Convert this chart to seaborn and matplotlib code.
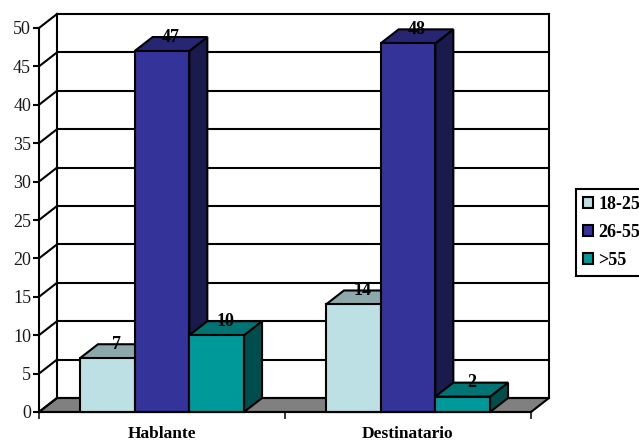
import matplotlib
matplotlib.use("Agg")
import matplotlib.pyplot as plt
from matplotlib.patches import Polygon, Patch
import pandas as pd
import seaborn as sns

categories = ["Hablante", "Destinatario"]
age_groups = ["18-25", "26-55", ">55"]
values_18_25 = [7, 14]
values_26_55 = [47, 48]
values_over_55 = [10, 2]

front_colors = ["#BCE0E4", "#333399", "#009999"]
top_colors = ["#8DA8AB", "#262673", "#007373"]
side_colors = ["#5E7072", "#1A1A4D", "#004D4D"]
FLOOR = "#808080"

W, H = 639, 443
LEFT, RIGHT, BOTTOM, TOP = 39, 531, 412, 28
DEPTH_X, DEPTH_Y = 18, 14
LW = 1.5

plt.rcParams["font.family"] = ["Liberation Serif", "DejaVu Serif"]

df = pd.DataFrame({
    "category": categories * 3,
    "group": [g for g in age_groups for _ in categories],
    "value": values_18_25 + values_26_55 + values_over_55,
})

fig = plt.figure(figsize=(W / 100, H / 100), dpi=100, facecolor="white")
ax = fig.add_axes([LEFT / W, 1 - BOTTOM / H, (RIGHT - LEFT) / W, (BOTTOM - TOP) / H])

sns.barplot(data=df, x="category", y="value", hue="group", order=categories,
            hue_order=age_groups, palette=front_colors, width=0.667, gap=0,
            dodge=True, saturation=1, legend=False, ax=ax,
            edgecolor="black", linewidth=LW, zorder=5)

ax.set_xlim(-0.5, 1.5)
ax.set_ylim(0, 50)
ax.patch.set_visible(False)

# Oblique offset of the box depth, expressed in data units
dx = DEPTH_X * 2 / (RIGHT - LEFT)
dy = DEPTH_Y * 50 / (BOTTOM - TOP)
x0, x1 = ax.get_xlim()
ticks = list(range(0, 55, 5))


def face(points, color, z):
    ax.add_patch(Polygon(points, closed=True, facecolor=color, edgecolor="black",
                         linewidth=LW, clip_on=False, zorder=z, joinstyle="miter"))


def line(xs, ys, z=2):
    ax.plot(xs, ys, color="black", lw=LW, clip_on=False, zorder=z,
            solid_capstyle="projecting")


# Floor, back wall and left wall
face([(x0, 0), (x0 + dx, dy), (x1 + dx, dy), (x1, 0)], FLOOR, 1)
for t in ticks:
    line([x0, x0 + dx], [t, t + dy])
    line([x0 + dx, x1 + dx], [t + dy, t + dy])
line([x0 + dx, x0 + dx], [dy, 50 + dy])
line([x1 + dx, x1 + dx], [dy, 50 + dy])

# Side and top faces for each bar, painted left to right so nearer faces overlap
z = 3.0
bars = []
for gi, container in enumerate(ax.containers):
    for bar in container:
        bars.append((bar.get_x(), gi, bar))
for _, gi, bar in sorted(bars, key=lambda b: b[0]):
    a, w, h = bar.get_x(), bar.get_width(), bar.get_height()
    face([(a + w, 0), (a + w + dx, dy), (a + w + dx, h + dy), (a + w, h)], side_colors[gi], z)
    face([(a, h), (a + dx, h + dy), (a + w + dx, h + dy), (a + w, h)], top_colors[gi], z)
    bar.set_zorder(z + 0.1)
    bar.set_clip_on(False)
    ax.text(a + w / 2 + dx / 2, h + dy, f"{h:.0f}", ha="center", va="center",
            fontsize=13, fontweight="bold", color="black", zorder=20)
    z += 0.2

# Axis styling
sns.despine(ax=ax, top=True, right=True)
for s in ("left", "bottom"):
    ax.spines[s].set_linewidth(LW)
    ax.spines[s].set_zorder(15)
ax.set_yticks(ticks)
ax.set_xticks([x0, (x0 + x1) / 2, x1])
ax.set_xticklabels([])
ax.tick_params(axis="y", length=4.2, width=LW, labelsize=13, pad=1.5, labelcolor="#1a1a1a")
ax.tick_params(axis="x", length=5, width=1.1)
ax.set_xlabel("")
ax.set_ylabel("")
for i, name in enumerate(categories):
    ax.annotate(name, xy=(i, 0), xycoords=("data", "data"), xytext=(0, -15.5),
                textcoords="offset points", ha="center", va="center",
                fontsize=12.5, fontweight="bold", annotation_clip=False)

# Legend box running up to the right edge
handles = [Patch(facecolor=c, edgecolor="black", linewidth=LW, label=g)
           for c, g in zip(front_colors, age_groups)]
fig.legend(handles=handles, loc="upper left",
           bbox_to_anchor=(576 / W, 1 - 188.5 / H), bbox_transform=fig.transFigure,
           frameon=True, fancybox=False, framealpha=1, edgecolor="black",
           handlelength=0.55, handleheight=0.55, handletextpad=0.3,
           labelspacing=0.62, borderpad=0.4, borderaxespad=0,
           prop={"size": 13, "weight": "bold"}
           ).get_frame().set_linewidth(LW)

fig.savefig("out.png", dpi=100)
